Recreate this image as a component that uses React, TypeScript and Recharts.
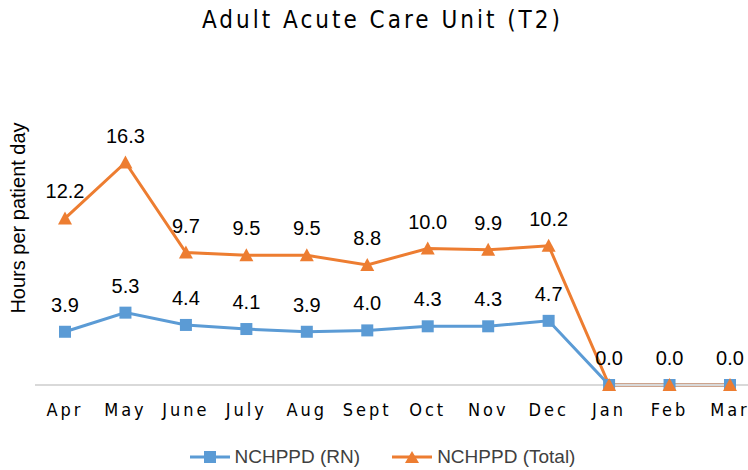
import { LineChart, Line, XAxis, YAxis, LabelList, Legend } from 'recharts'

const months = ['Apr', 'May', 'June', 'July', 'Aug', 'Sept', 'Oct', 'Nov', 'Dec', 'Jan', 'Feb', 'Mar']
const rnHours = [3.9, 5.3, 4.4, 4.1, 3.9, 4.0, 4.3, 4.3, 4.7, 0, 0, 0]
const totalHours = [12.2, 16.3, 9.7, 9.5, 9.5, 8.8, 10.0, 9.9, 10.2, 0, 0, 0]
const seriesNames = ['NCHPPD (RN)', 'NCHPPD (Total)']
const title = 'Adult Acute Care Unit (T2)'
const yLabel = 'Hours per patient day'

const BLUE = '#5b9bd5'
const ORANGE = '#ed7d31'
const SANS = '"Liberation Sans", Arial, sans-serif'
const SPACED = '"Liberation Sans Narrow", "DejaVu Sans Condensed", "Liberation Sans", sans-serif'

const data = months.map((m, i) => ({ month: m, rn: rnHours[i], total: totalHours[i] }))

const fmt = (v: any) => Number(v).toFixed(1)
// both series sit at 0 for Jan-Mar, so only the Total label is drawn there
const fmtRn = (v: any) => (Number(v) === 0 ? '' : fmt(v))

function SquareDot(props: any) {
  const { cx, cy, index } = props
  if (cx == null || cy == null) return null
  return <rect key={`sq-${index}`} x={cx - 6} y={cy - 6} width={12} height={12} fill={BLUE} />
}

function TriangleDot(props: any) {
  const { cx, cy, index } = props
  if (cx == null || cy == null) return null
  return <path key={`tr-${index}`} d={`M${cx},${cy - 7} L${cx + 7},${cy + 6} L${cx - 7},${cy + 6} Z`} fill={ORANGE} />
}

function LegendContent() {
  const item = (name: string, color: string, square: boolean) => (
    <div style={{ display: 'flex', alignItems: 'center', gap: 5 }}>
      <svg width={40} height={16}>
        <line x1={0} y1={8} x2={40} y2={8} stroke={color} strokeWidth={3} />
        {square ? (
          <rect x={14} y={2} width={12} height={12} fill={color} />
        ) : (
          <path d="M20,2 L27,14 L13,14 Z" fill={color} />
        )}
      </svg>
      <span>{name}</span>
    </div>
  )
  return (
    <div style={{ display: 'flex', justifyContent: 'center', gap: 32, fontFamily: SANS, fontSize: 19, color: '#404040' }}>
      {item(seriesNames[0], BLUE, true)}
      {item(seriesNames[1], ORANGE, false)}
    </div>
  )
}

export default function App() {
  return (
    <div style={{ position: 'absolute', left: 0, top: 0, width: 748, height: 470, overflow: 'hidden', background: '#fff' }}>
      <div
        style={{
          position: 'absolute',
          top: 8,
          left: 0,
          width: 765,
          textAlign: 'center',
          fontFamily: SPACED,
          fontSize: 24,
          lineHeight: '24px',
          letterSpacing: 3,
          color: '#000',
        }}
      >
        {title}
      </div>
      <LineChart width={770} height={470} data={data} margin={{ top: 112, right: 10, bottom: 55, left: 0 }}>
        <XAxis
          dataKey="month"
          interval={0}
          padding={{ left: 30, right: 30 }}
          axisLine={{ stroke: '#d9d9d9', strokeWidth: 2 }}
          tickLine={false}
          tickMargin={12}
          tick={{ fontSize: 18, fill: '#000', fontFamily: SPACED, letterSpacing: 3 }}
        />
        <YAxis
          width={35}
          domain={[0, 20]}
          tick={false}
          axisLine={false}
          tickLine={false}
          label={{
            value: yLabel,
            content: () => (
              <text transform="translate(25,218) rotate(-90)" textAnchor="middle" fontSize={20} fontFamily={SANS} fill="#000">
                {yLabel}
              </text>
            ),
          }}
        />
        <Legend layout="horizontal" verticalAlign="middle" align="center" wrapperStyle={{ top: 446, left: 0, width: 765 }} content={<LegendContent />} />
        <Line
          dataKey="rn"
          name={seriesNames[0]}
          stroke={BLUE}
          strokeWidth={3}
          dot={<SquareDot />}
          isAnimationActive={false}
        >
          <LabelList dataKey="rn" position="top" offset={20} formatter={fmtRn} fontSize={20} fontFamily={SANS} fill="#000" />
        </Line>
        <Line
          dataKey="total"
          name={seriesNames[1]}
          stroke={ORANGE}
          strokeWidth={3}
          dot={<TriangleDot />}
          isAnimationActive={false}
        >
          <LabelList dataKey="total" position="top" offset={20} formatter={fmt} fontSize={20} fontFamily={SANS} fill="#000" />
        </Line>
      </LineChart>
    </div>
  )
}
